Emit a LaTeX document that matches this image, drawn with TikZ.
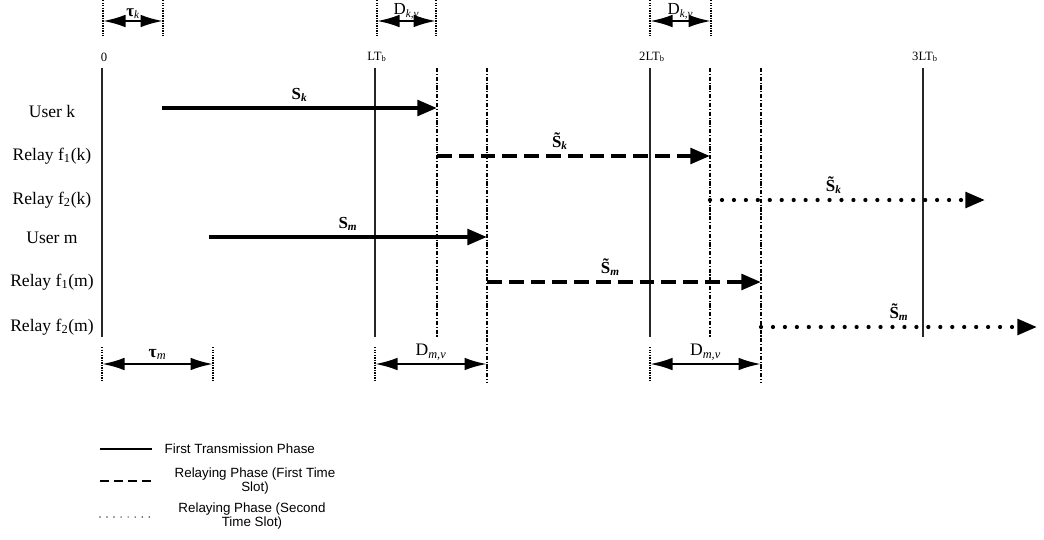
\documentclass[tikz,border=0pt]{standalone}
\usepackage{fontspec}
\setmainfont{Liberation Serif}
\newfontfamily\legendfont{Liberation Sans}
\usetikzlibrary{arrows.meta}

\begin{document}
\begin{tikzpicture}[x=0.025cm, y=-0.025cm, inner sep=1pt]
    % styles
    \tikzstyle{lbl_row} = [font=\fontsize{12.5}{14}\selectfont]
    \tikzstyle{lbl_time} = [font=\fontsize{9}{10}\selectfont]
    \tikzstyle{lbl_span} = [font=\fontsize{12.5}{14}\selectfont, above=1pt]
    \tikzstyle{lbl_span_top} = [font=\fontsize{12}{13}\selectfont, anchor=south, inner sep=0pt, yshift=0.6pt]
    \tikzstyle{lbl_sig} = [font=\fontsize{12}{14}\selectfont\bfseries, above=2pt, pos=0.45]
    \tikzstyle{lbl_legend} = [font=\legendfont\fontsize{9.5}{10.5}\selectfont, align=center]
    \tikzstyle{line_slot} = [line width=0.9pt, black!85]
    \tikzstyle{line_delay} = [line width=0.8pt, dash pattern=on 3pt off 1.2pt on 0.8pt off 1.2pt]
    \tikzstyle{line_tick} = [line width=0.9pt, dash pattern=on 1pt off 0.8pt]
    \tikzstyle{arrow_span} = [{Latex[length=16pt,width=9pt]}-{Latex[length=16pt,width=9pt]}, line width=1.7pt]
    \tikzstyle{arrow_tx} = [-{Triangle[length=14pt,width=11pt]}, line width=3pt]
    \tikzstyle{arrow_relay1} = [arrow_tx, dash pattern=on 10.5pt off 5pt]
    \tikzstyle{arrow_relay2} = [arrow_tx, line cap=round, dash pattern=on 0pt off 8.5pt]

    \useasboundingbox (0,0) rectangle (1044,539);

    % ================= time axis =================
    \foreach \n/\x/\t in {t0/102/0, t1/375/LT\textsubscript{b}, t2/650/2LT\textsubscript{b}, t3/923/3LT\textsubscript{b}} {
        \node[lbl_time] (\n) at (\x+2, 57) {\t};
        \coordinate (\n a) at (\x, 68);
        \coordinate (\n b) at (\x, 337);
        \draw[line_slot] (\n a) -- (\n b);
    }

    % delay boundaries (dash-dot)
    \foreach \n/\x/\e in {dk1/437/337, dm1/487/382, dk2/710/337, dm2/761/382} {
        \coordinate (\n a) at (\x, 68);
        \coordinate (\n b) at (\x, \e);
        \draw[line_delay] (\n a) -- (\n b);
    }

    % ================= rows =================
    \foreach \n/\y/\t in {uk/111/User k, rk1/156/Relay f\textsubscript{1}(k), rk2/200/Relay f\textsubscript{2}(k),
                          um/238/User m, rm1/282/Relay f\textsubscript{1}(m), rm2/327/Relay f\textsubscript{2}(m)} {
        \node[lbl_row] (\n) at (52, \y) {\t};
    }

    % signal end points
    \coordinate (sk_a) at (162, 108);  \coordinate (sk_b) at (437, 108);
    \coordinate (rk1_a) at (437, 156); \coordinate (rk1_b) at (710, 156);
    \coordinate (rk2_a) at (710, 200); \coordinate (rk2_b) at (985, 200);
    \coordinate (sm_a) at (209, 237);  \coordinate (sm_b) at (487, 237);
    \coordinate (rm1_a) at (487, 282); \coordinate (rm1_b) at (761, 282);
    \coordinate (rm2_a) at (761, 327); \coordinate (rm2_b) at (1037, 327);

    \draw[arrow_tx] (sk_a) -- node[lbl_sig, pos=0.5] {S\textsubscript{\itshape k}} (sk_b);
    \draw[arrow_relay1] (rk1_a) -- node[lbl_sig] {\~{S}\textsubscript{\itshape k}} (rk1_b);
    \draw[arrow_relay2] (rk2_a) -- node[lbl_sig] {\~{S}\textsubscript{\itshape k}} (rk2_b);
    \draw[arrow_tx] (sm_a) -- node[lbl_sig, pos=0.5] {S\textsubscript{\itshape m}} (sm_b);
    \draw[arrow_relay1] (rm1_a) -- node[lbl_sig] {\~{S}\textsubscript{\itshape m}} (rm1_b);
    \draw[arrow_relay2] (rm2_a) -- node[lbl_sig, pos=0.5] {\~{S}\textsubscript{\itshape m}} (rm2_b);

    % ================= delay spans =================
    % top: tau_k, D_k,v
    \foreach \n/\xa/\xb in {ta/103/163, da/377/436, db/650/711} {
        \coordinate (\n l) at (\xa, 21);
        \coordinate (\n r) at (\xb, 21);
        \draw[line_tick] (\xa, 0) -- (\xa, 36);
        \draw[line_tick] (\xb, 0) -- (\xb, 36);
    }
    \draw[arrow_span] (tal) -- node[lbl_span_top] {\textbf{τ}\textsubscript{\itshape k}} (tar);
    \draw[arrow_span] (dal) -- node[lbl_span_top] {D\textsubscript{\itshape k,v}} (dar);
    \draw[arrow_span] (dbl) -- node[lbl_span_top] {D\textsubscript{\itshape k,v}} (dbr);

    % bottom: tau_m, D_m,v
    \foreach \n/\xa/\xb in {tb/102/213, dc/375/487, dd/650/761} {
        \coordinate (\n l) at (\xa, 364);
        \coordinate (\n r) at (\xb, 364);
        \draw[line_tick] (\xa, 347) -- (\xa, 382);
    }
    \draw[line_tick] (213, 347) -- (213, 382);
    \draw[arrow_span] (tbl) -- node[lbl_span] {\textbf{τ}\textsubscript{\itshape m}} (tbr);
    \draw[arrow_span] (dcl) -- node[lbl_span] {D\textsubscript{\itshape m,v}} (dcr);
    \draw[arrow_span] (ddl) -- node[lbl_span] {D\textsubscript{\itshape m,v}} (ddr);

    % ================= legend =================
    \coordinate (lg1a) at (100, 449); \coordinate (lg1b) at (152, 449);
    \coordinate (lg2a) at (100, 481); \coordinate (lg2b) at (152, 481);
    \coordinate (lg3a) at (100, 517); \coordinate (lg3b) at (152, 517);
    \draw[line width=1.3pt] (lg1a) -- (lg1b);
    \draw[line width=2pt, dash pattern=on 6.5pt off 3.5pt] (lg2a) -- (lg2b);
    \draw[line width=1.2pt, black!70, line cap=round, dash pattern=on 0pt off 5pt] (lg3a) -- (lg3b);
    \node[lbl_legend, anchor=west] (lg1) at (163, 449) {First Transmission Phase};
    \node[lbl_legend] (lg2) at (255, 481) {Relaying Phase (First Time\\Slot)};
    \node[lbl_legend] (lg3) at (252, 516) {Relaying Phase (Second\\Time Slot)};

\end{tikzpicture}
\end{document}
